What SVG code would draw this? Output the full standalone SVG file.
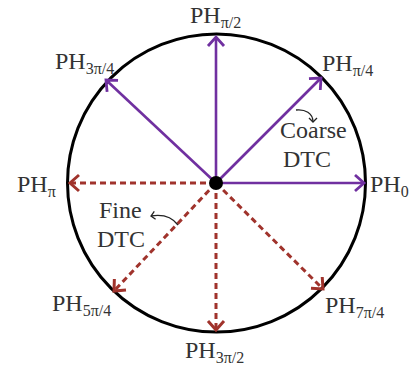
<svg xmlns="http://www.w3.org/2000/svg" width="411" height="371" viewBox="0 0 411 371">
<defs>
<style>
.lbl{font-family:"Liberation Serif","Times New Roman",serif;font-size:24px;fill:#333}
.sub{font-size:16px}
.solid{stroke:#7030A0;stroke-width:2.6;fill:none;marker-end:url(#ap)}
.dash{stroke:#A0332C;stroke-width:3;fill:none;stroke-dasharray:6 4;marker-end:url(#ar)}
.small{stroke:#222;stroke-width:1.3;fill:none;marker-end:url(#ak)}
</style>
<marker id="ap" markerUnits="userSpaceOnUse" markerWidth="24" markerHeight="24" refX="12" refY="12" orient="auto" overflow="visible">
<path d="M3,4 L12,12 L3,20" fill="none" stroke="#7030A0" stroke-width="2.8" stroke-dasharray="none"/>
</marker>
<marker id="ar" markerUnits="userSpaceOnUse" markerWidth="24" markerHeight="24" refX="12" refY="12" orient="auto" overflow="visible">
<path d="M3,4 L12,12 L3,20" fill="none" stroke="#A0332C" stroke-width="3" stroke-dasharray="none"/>
</marker>
<marker id="ak" markerUnits="userSpaceOnUse" markerWidth="12" markerHeight="12" refX="6" refY="6" orient="auto" overflow="visible">
<path d="M2,2 L6,6 L2,10" fill="none" stroke="#222" stroke-width="1.3"/>
</marker>
</defs>
<rect width="411" height="371" fill="#fff"/>
<g id="circle">
<circle cx="216.5" cy="183" r="149" fill="none" stroke="#000" stroke-width="3"/>
</g>
<g id="connectors">
<line class="solid" x1="216" y1="183" x2="216" y2="37"/>
<line class="solid" x1="216" y1="183" x2="364" y2="183"/>
<line class="solid" x1="216" y1="183" x2="321" y2="78"/>
<line class="solid" x1="216" y1="183" x2="106" y2="80"/>
<line class="dash" x1="216" y1="183" x2="70" y2="183"/>
<line class="dash" x1="216" y1="183" x2="216" y2="330"/>
<line class="dash" x1="216" y1="183" x2="114" y2="291"/>
<line class="dash" x1="216" y1="183" x2="323" y2="289"/>
<path class="small" d="M296,110 C305,109 313,113 313,122"/>
<path class="small" d="M178,225 C172,217 163,214 151,216"/>
</g>
<g id="center">
<circle cx="216" cy="183" r="7" fill="#000"/>
</g>
<g id="ph-pi2"><text class="lbl" x="190" y="23">PH<tspan class="sub" dy="5">π/2</tspan></text></g>
<g id="ph-pi4"><text class="lbl" x="322" y="71">PH<tspan class="sub" dy="5">π/4</tspan></text></g>
<g id="ph-3pi4"><text class="lbl" x="55" y="69">PH<tspan class="sub" dy="5">3π/4</tspan></text></g>
<g id="ph-pi"><text class="lbl" x="17" y="192">PH<tspan class="sub" dy="5">π</tspan></text></g>
<g id="ph-0"><text class="lbl" x="370" y="192">PH<tspan class="sub" dy="5">0</tspan></text></g>
<g id="ph-5pi4"><text class="lbl" x="52" y="311">PH<tspan class="sub" dy="5">5π/4</tspan></text></g>
<g id="ph-3pi2"><text class="lbl" x="185" y="358">PH<tspan class="sub" dy="5">3π/2</tspan></text></g>
<g id="ph-7pi4"><text class="lbl" x="325" y="313">PH<tspan class="sub" dy="5">7π/4</tspan></text></g>
<g id="coarse"><text class="lbl" x="280" y="138">Coarse</text><text class="lbl" x="283" y="167">DTC</text></g>
<g id="fine"><text class="lbl" x="99" y="218">Fine</text><text class="lbl" x="97" y="247">DTC</text></g>
</svg>
